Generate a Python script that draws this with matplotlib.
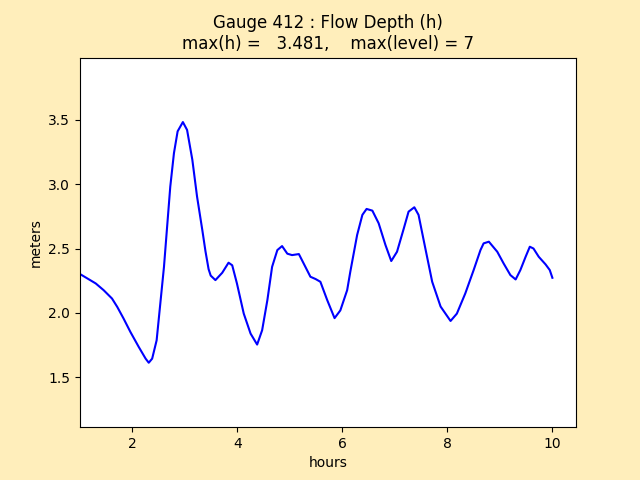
import numpy as np
import matplotlib
matplotlib.use("Agg")
import matplotlib.pyplot as plt

# gauge readings (hours, meters)
hours = [1.0, 1.14, 1.30, 1.45, 1.61, 1.71, 1.83, 1.96, 2.12, 2.25, 2.31, 2.375,
         2.46, 2.53, 2.60, 2.66, 2.72, 2.79, 2.86, 2.96, 3.04, 3.14, 3.23, 3.33,
         3.39, 3.45, 3.49, 3.58, 3.71, 3.83, 3.90, 3.99, 4.12, 4.25, 4.375, 4.47,
         4.57, 4.66, 4.76, 4.85, 4.95, 5.04, 5.17, 5.26, 5.39, 5.49, 5.58, 5.71,
         5.85, 5.96, 6.09, 6.15, 6.28, 6.38, 6.46, 6.57, 6.69, 6.82, 6.93, 7.04,
         7.17, 7.26, 7.37, 7.45, 7.58, 7.71, 7.87, 8.06, 8.18, 8.34, 8.50, 8.63,
         8.69, 8.79, 8.95, 9.07, 9.20, 9.30, 9.39, 9.49, 9.57, 9.64, 9.74, 9.87,
         9.95, 10.0]
depth = [2.302, 2.268, 2.229, 2.177, 2.112, 2.047, 1.957, 1.853, 1.736, 1.646, 1.614, 1.646,
         1.788, 2.073, 2.358, 2.67, 2.98, 3.24, 3.409, 3.481, 3.42, 3.189, 2.903, 2.644,
         2.48, 2.34, 2.29, 2.255, 2.312, 2.39, 2.37, 2.229, 1.995, 1.84, 1.755, 1.866,
         2.10, 2.358, 2.488, 2.519, 2.46, 2.449, 2.457, 2.385, 2.281, 2.263, 2.242, 2.10,
         1.96, 2.02, 2.177, 2.32, 2.605, 2.761, 2.807, 2.794, 2.696, 2.527, 2.403, 2.475,
         2.657, 2.786, 2.82, 2.761, 2.50, 2.242, 2.05, 1.938, 1.995, 2.151, 2.333, 2.488,
         2.54, 2.553, 2.475, 2.385, 2.294, 2.26, 2.333, 2.436, 2.514, 2.50, 2.436, 2.377,
         2.333, 2.273]
hmax = 3.481
level_max = 7

fig, ax = plt.subplots(figsize=(6.4, 4.8), dpi=100)
fig.patch.set_facecolor("#ffeebb")
ax.plot(hours, depth, color="b")
ax.set_xlim(left=1)
ax.set_ylim(min(depth) - 0.5, hmax + 0.5)
ax.set_xlabel("hours")
ax.set_ylabel("meters")
ax.set_title("Gauge 412 : Flow Depth (h)\nmax(h) = %7.3f,    max(level) = %d" % (hmax, level_max))
fig.savefig("out.png", facecolor=fig.get_facecolor())
